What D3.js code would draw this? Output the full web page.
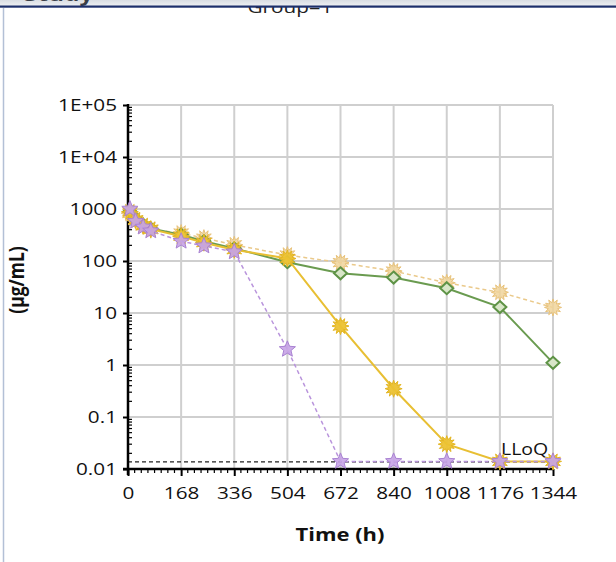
<!DOCTYPE html>
<html>
<head>
<meta charset="utf-8">
<script src="https://cdn.jsdelivr.net/npm/d3@7"></script>
<style>
  body { margin: 0; background: #fff; }
  svg, svg text { font-family: "Open Sans", "Noto Sans", sans-serif; }
</style>
</head>
<body>
<div id="chart"></div>
<script>
// sampling times (h)
var times = [6, 24, 48, 72, 168, 240, 336, 504, 672, 840, 1008, 1176, 1344];

// concentrations (ug/mL) per subject
var greenValues  = [900, 640, 500, 420, 320, 240, 175, 95, 58, 48, 30, 13, 1.1];
var goldValues   = [880, 620, 480, 410, 300, 225, 165, 112, 5.6, 0.35, 0.030, 0.014, 0.014];
var tanValues    = [820, 600, 470, 400, 345, 275, 205, 130, 93, 64, 38, 25, 12.8];
var purpleValues = [1000, 580, 450, 380, 240, 195, 150, 2.0, 0.014, 0.014, 0.014, 0.014, 0.014];

var xTicks = [0, 168, 336, 504, 672, 840, 1008, 1176, 1344];
var yTicks = [0.01, 0.1, 1, 10, 100, 1000, 1e4, 1e5];
var yTickLabels = ["0.01", "0.1", "1", "10", "100", "1000", "1E+04", "1E+05"];
var lloq = 0.0137;

var width = 616, height = 562;
var sx = 1.22; // the text in the original is drawn a bit wide
var x = d3.scaleLinear().domain([0, 1344]).range([128, 553]);
var y = d3.scaleLog().domain([0.01, 1e5]).range([469, 105]);

var svg = d3.select("#chart").append("svg")
  .attr("width", width)
  .attr("height", height);

function wideText(px, py, str, size, bold, anchor) {
  return svg.append("text")
    .attr("transform", "translate(" + px + "," + py + ")scale(" + sx + ",1)")
    .attr("text-anchor", anchor || "start")
    .style("font-size", size + "px")
    .style("font-weight", bold ? "bold" : "normal")
    .style("fill", "#111")
    .text(str);
}

// title (partly hidden by the window bar above)
wideText(290, 13, "Group=1", 17, false, "middle").style("fill", "#222");

// window bar + left frame
var grad = svg.append("defs").append("linearGradient")
  .attr("id", "bar").attr("x1", 0).attr("x2", 0).attr("y1", 0).attr("y2", 1);
grad.append("stop").attr("offset", "0%").attr("stop-color", "#d9dde3");
grad.append("stop").attr("offset", "100%").attr("stop-color", "#eef0f3");
svg.append("rect").attr("x", 0).attr("y", 0).attr("width", width).attr("height", 6).attr("fill", "url(#bar)");
wideText(24, 1, "Study", 20, true).style("fill", "#3a3f48");
svg.append("rect").attr("x", 0).attr("y", 5.5).attr("width", width).attr("height", 2.2).attr("fill", "#1c2f6b");
svg.append("line")
  .attr("x1", 3.5).attr("x2", 3.5).attr("y1", 8).attr("y2", height)
  .attr("stroke", "#b3c0d6").attr("stroke-width", 1.5);

// grid
svg.append("g").selectAll("line")
  .data(yTicks)
  .enter().append("line")
  .attr("x1", x(0)).attr("x2", x(1344))
  .attr("y1", function (d) { return y(d); })
  .attr("y2", function (d) { return y(d); })
  .attr("stroke", "#cfcfcf").attr("stroke-width", 2);
svg.append("g").selectAll("line")
  .data(xTicks.slice(1))
  .enter().append("line")
  .attr("x1", function (d) { return x(d); })
  .attr("x2", function (d) { return x(d); })
  .attr("y1", y(1e5)).attr("y2", y(0.01))
  .attr("stroke", "#cfcfcf").attr("stroke-width", 2);

// LLoQ reference line
svg.append("line")
  .attr("x1", x(0)).attr("x2", x(1344))
  .attr("y1", y(lloq)).attr("y2", y(lloq))
  .attr("stroke", "#222").attr("stroke-width", 1.2)
  .attr("stroke-dasharray", "4,3");
wideText(501, 455, "LLoQ", 16, false);

// axes
var minorY = [];
d3.range(-2, 5).forEach(function (e) {
  d3.range(2, 10).forEach(function (m) { minorY.push(m * Math.pow(10, e)); });
});
var yAxis = d3.axisLeft(y).tickValues(yTicks)
  .tickFormat(function (d, i) { return yTickLabels[i]; })
  .tickSize(5).tickPadding(4);
var gy = svg.append("g")
  .attr("transform", "translate(" + x(0) + ",0)")
  .call(yAxis)
  .attr("font-family", null);
gy.select(".domain").remove();
gy.selectAll(".tick line").attr("stroke", "#000").attr("stroke-width", 2);
gy.selectAll("text")
  .attr("transform", "scale(" + sx + ",1)")
  .style("font-size", "17px").style("fill", "#111");
gy.selectAll(".minor")
  .data(minorY)
  .enter().append("line")
  .attr("class", "minor")
  .attr("x1", 0).attr("x2", 4)
  .attr("y1", function (d) { return y(d); })
  .attr("y2", function (d) { return y(d); })
  .attr("stroke", "#000").attr("stroke-width", 1.2);
gy.append("line")
  .attr("x1", 0).attr("x2", 0)
  .attr("y1", y(1e5) - 1).attr("y2", y(0.01) + 6)
  .attr("stroke", "#000").attr("stroke-width", 2.5);

var xAxis = d3.axisBottom(x).tickValues(xTicks)
  .tickFormat(d3.format("d"))
  .tickSize(7).tickPadding(11);
var gx = svg.append("g")
  .attr("transform", "translate(0," + y(0.01) + ")")
  .call(xAxis)
  .attr("font-family", null);
gx.select(".domain").remove();
gx.selectAll(".tick line").attr("stroke", "#000").attr("stroke-width", 2);
gx.selectAll("text")
  .attr("transform", "scale(" + sx + ",1)")
  .style("font-size", "17px").style("fill", "#111");
gx.selectAll(".minor")
  .data(d3.range(0, 1345, 21).filter(function (d) { return d % 168 !== 0; }))
  .enter().append("line")
  .attr("class", "minor")
  .attr("x1", function (d) { return x(d); })
  .attr("x2", function (d) { return x(d); })
  .attr("y1", 0).attr("y2", 4)
  .attr("stroke", "#000").attr("stroke-width", 1.2);
gx.append("line")
  .attr("x1", x(0) - 5).attr("x2", x(1344) + 1)
  .attr("y1", 0).attr("y2", 0)
  .attr("stroke", "#000").attr("stroke-width", 2.5);

// axis titles
svg.append("text")
  .attr("transform", "translate(24,280)scale(" + sx + ",1)rotate(-90)")
  .attr("text-anchor", "middle")
  .style("font-size", "17.5px").style("font-weight", "bold").style("fill", "#111")
  .text("(µg/mL)");
wideText(340, 541, "Time (h)", 18, true, "middle");

// marker shapes
function starPath(points, r0, r1) {
  var p = [];
  for (var i = 0; i < points * 2; i++) {
    var r = i % 2 ? r1 : r0, a = Math.PI * i / points - Math.PI / 2;
    p.push([r * Math.cos(a), r * Math.sin(a)]);
  }
  return "M" + p.join("L") + "Z";
}
var diamond = "M0,-6L6.5,0L0,6L-6.5,0Z";
var burst = starPath(12, 8.5, 4.8);
var star5 = starPath(5, 8.5, 3.8);

var series = [
  { values: tanValues, line: "#eac98a", dash: "4,3", width: 1.5, shape: burst, fill: "#f0d39a", stroke: "#e8c27a", opacity: 0.85 },
  { values: greenValues, line: "#6a9b50", dash: null, width: 2, shape: diamond, fill: "#d8e6c8", stroke: "#5e9346", opacity: 1 },
  { values: goldValues, line: "#e8bf33", dash: null, width: 2, shape: burst, fill: "#ecc232", stroke: "#e3b522", opacity: 0.95 },
  { values: purpleValues, line: "#b994dc", dash: "4,3", width: 1.5, shape: star5, fill: "#c7a3e6", stroke: "#a982d2", opacity: 0.9 }
];

var line = d3.line()
  .x(function (d) { return x(d.t); })
  .y(function (d) { return y(d.v); });

series.forEach(function (s) {
  var pts = times.map(function (t, i) { return { t: t, v: s.values[i] }; });
  svg.append("path")
    .datum(pts)
    .attr("d", line)
    .attr("fill", "none")
    .attr("stroke", s.line)
    .attr("stroke-width", s.width)
    .attr("stroke-dasharray", s.dash);
  svg.append("g").selectAll("path")
    .data(pts)
    .enter().append("path")
    .attr("d", s.shape)
    .attr("transform", function (d) { return "translate(" + x(d.t) + "," + y(d.v) + ")"; })
    .attr("fill", s.fill)
    .attr("fill-opacity", s.opacity)
    .attr("stroke", s.stroke)
    .attr("stroke-width", s.shape === diamond ? 2 : 1);
});
</script>
</body>
</html>
